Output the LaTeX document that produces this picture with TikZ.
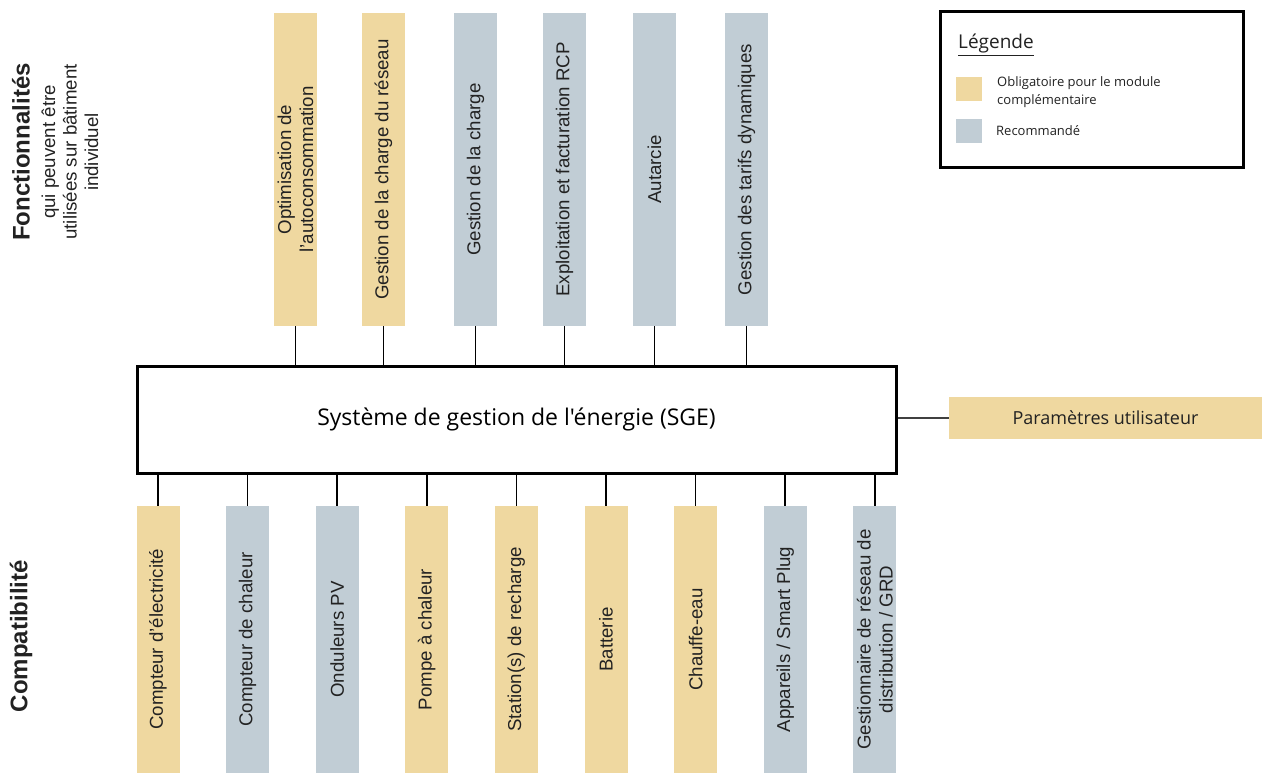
\documentclass[tikz,border=0pt]{standalone}
\usepackage{fontspec}
\setmainfont{Liberation Sans}
\newfontfamily\aptos{Open Sans}
\definecolor{oblig}{HTML}{EFD8A0}
\definecolor{recom}{HTML}{C1CDD5}
\definecolor{txt}{HTML}{222222}
\begin{document}
\begin{tikzpicture}[x=1pt,y=-1pt,
  bar/.style={rotate=90, minimum height=43pt, inner sep=0pt, align=center,
    font=\fontsize{18.67}{22}\selectfont, text=txt},
  topbar/.style={bar, minimum width=313pt},
  botbar/.style={bar, minimum width=267pt},
  yel/.style={fill=oblig},
  gry/.style={fill=recom},
  link/.style={line width=1.5pt, draw=black},
  frame/.style={draw=black, line width=3pt, fill=white, inner sep=0pt},
  side/.style={rotate=90, align=center, text=txt}]
\useasboundingbox (0,0) rectangle (1263,773);

% side titles
\node[side, font=\bfseries\fontsize{24}{28}\selectfont] (tf) at (21,152) {Fonctionnalités};
\node[side, font=\fontsize{18.67}{21.5}\selectfont] (tfs) at (70,152) {qui peuvent être\\utilisées sur bâtiment\\individuel};
\node[side, font=\bfseries\fontsize{24}{28}\selectfont] (tc) at (21,636) {Compatibilité};

% central system box
\node[frame, minimum width=759pt, minimum height=107pt,
  font=\aptos\fontsize{23}{27}\selectfont] (sge) at (516.5,419.5)
  {Système de gestion de l'énergie (SGE)};

% functionalities
\node[topbar, yel] (f1) at (295.5,169.5) {Optimisation de\\l'autoconsommation};
\node[topbar, yel] (f2) at (383.5,169.5) {Gestion de la charge du réseau};
\node[topbar, gry] (f3) at (475.5,169.5) {Gestion de la charge};
\node[topbar, gry] (f4) at (564.5,169.5) {Exploitation et facturation RCP};
\node[topbar, gry] (f5) at (654.5,169.5) {Autarcie};
\node[topbar, gry] (f6) at (746.5,169.5) {Gestion des tarifs dynamiques};

\foreach \n in {f1,f2,f3,f4,f5,f6}
  \draw[link] (\n.west) -- (\n.west |- sge.north);

% compatibility
\node[botbar, yel] (c1) at (158,639.5) {Compteur d'électricité};
\node[botbar, gry] (c2) at (247.6,639.5) {Compteur de chaleur};
\node[botbar, gry] (c3) at (337.2,639.5) {Onduleurs PV};
\node[botbar, yel] (c4) at (426.8,639.5) {Pompe à chaleur};
\node[botbar, yel] (c5) at (516.4,639.5) {Station(s) de recharge};
\node[botbar, yel] (c6) at (606,639.5) {Batterie};
\node[botbar, yel] (c7) at (695.6,639.5) {Chauffe-eau};
\node[botbar, gry] (c8) at (785.2,639.5) {Appareils / Smart Plug};
\node[botbar, gry] (c9) at (874.8,639.5) {Gestionnaire de réseau de\\distribution / GRD};

\foreach \n in {c1,c2,c3,c4,c5,c6,c7,c8,c9}
  \draw[link] (\n.east) -- (\n.east |- sge.south);

% user settings
\node[yel, minimum width=313pt, minimum height=42pt, inner sep=0pt, text=txt,
  font=\aptos\fontsize{18}{22}\selectfont] (par) at (1105.5,418) {Paramètres utilisateur};
\draw[link, draw=black!75] (sge.east |- par.west) -- (par.west);

% legend
\node[frame, minimum width=303pt, minimum height=155pt] (leg) at (1091.5,89.5) {};
\node[anchor=west, inner sep=0pt, text=txt, font=\aptos\fontsize{19}{23}\selectfont] (legt) at (958,45) {\underline{Légende}};
\node[yel, minimum width=26pt, minimum height=24pt, inner sep=0pt] (ly) at (969,89) {};
\node[gry, minimum width=26pt, minimum height=24pt, inner sep=0pt] (lg) at (969,131) {};
\node[anchor=west, inner sep=0pt, align=left, text=txt, font=\aptos\fontsize{13}{18}\selectfont] (lyt) at (997,92) {Obligatoire pour le module\\complémentaire};
\node[anchor=west, inner sep=0pt, text=txt, font=\aptos\fontsize{13}{18}\selectfont] (lgt) at (996,131) {Recommandé};
\end{tikzpicture}
\end{document}
